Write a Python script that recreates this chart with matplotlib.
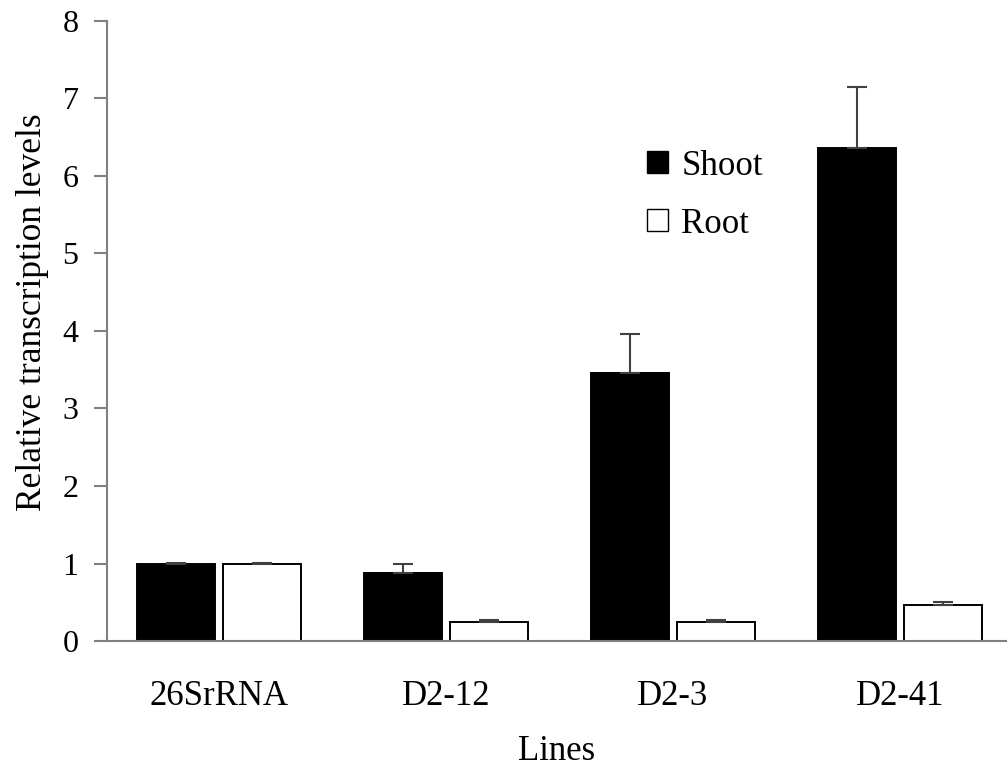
import matplotlib
matplotlib.use('Agg')
import matplotlib.pyplot as plt
import numpy as np
from matplotlib.patches import Patch

# data
lines = ['26SrRNA', 'D2-12', 'D2-3', 'D2-41']
shoot = [1.0, 0.88, 3.46, 6.36]
root = [1.0, 0.24, 0.24, 0.46]
shoot_err = [0.01, 0.11, 0.50, 0.79]
root_err = [0.01, 0.025, 0.025, 0.04]

plt.rcParams['font.family'] = ['Liberation Serif', 'DejaVu Serif']

fig = plt.figure(figsize=(10.08, 7.71), dpi=100)
ax = fig.add_axes([0.106, 0.1686, 0.892, 0.8042])

x = np.arange(len(lines))
w = 0.344
off = 0.189
grey = '#808080'
err_kw = dict(ecolor='#404040', elinewidth=1.5, capsize=7, capthick=1.5)

ax.bar(x - off, shoot, w, color='black', edgecolor='black', linewidth=1.4,
       yerr=[np.zeros(len(shoot)), shoot_err], error_kw=err_kw, zorder=2)
ax.bar(x + off, root, w, color='white', edgecolor='black', linewidth=1.4,
       yerr=[np.zeros(len(root)), root_err], error_kw=err_kw, zorder=2)

ax.set_xlim(-0.493, 3.467)
ax.set_ylim(0, 8)
ax.set_yticks(range(0, 9))
ax.set_xticks(x)
ax.set_xticklabels(lines)

for s in ['top', 'right']:
    ax.spines[s].set_visible(False)
for s in ['left', 'bottom']:
    ax.spines[s].set_color(grey)
    ax.spines[s].set_linewidth(1.5)

ax.tick_params(axis='y', length=9.5, width=1.5, color=grey, labelsize=23, pad=11)
ax.tick_params(axis='x', length=0, labelsize=25, pad=28)

ax.set_xlabel('Lines', fontsize=25, labelpad=16)
ax.set_ylabel('Relative transcription levels', fontsize=25.5)
ax.yaxis.set_label_coords(-0.064, 0.53)

handles = [Patch(facecolor='black', edgecolor='black'),
           Patch(facecolor='white', edgecolor='black')]
ax.legend(handles, ['Shoot', 'Root'], loc='upper left', bbox_to_anchor=(0.585, 0.815),
          frameon=False, fontsize=25, handlelength=0.6, handleheight=0.6,
          handletextpad=0.4, labelspacing=0.72, borderaxespad=0)

fig.savefig('out.png', dpi=100)
